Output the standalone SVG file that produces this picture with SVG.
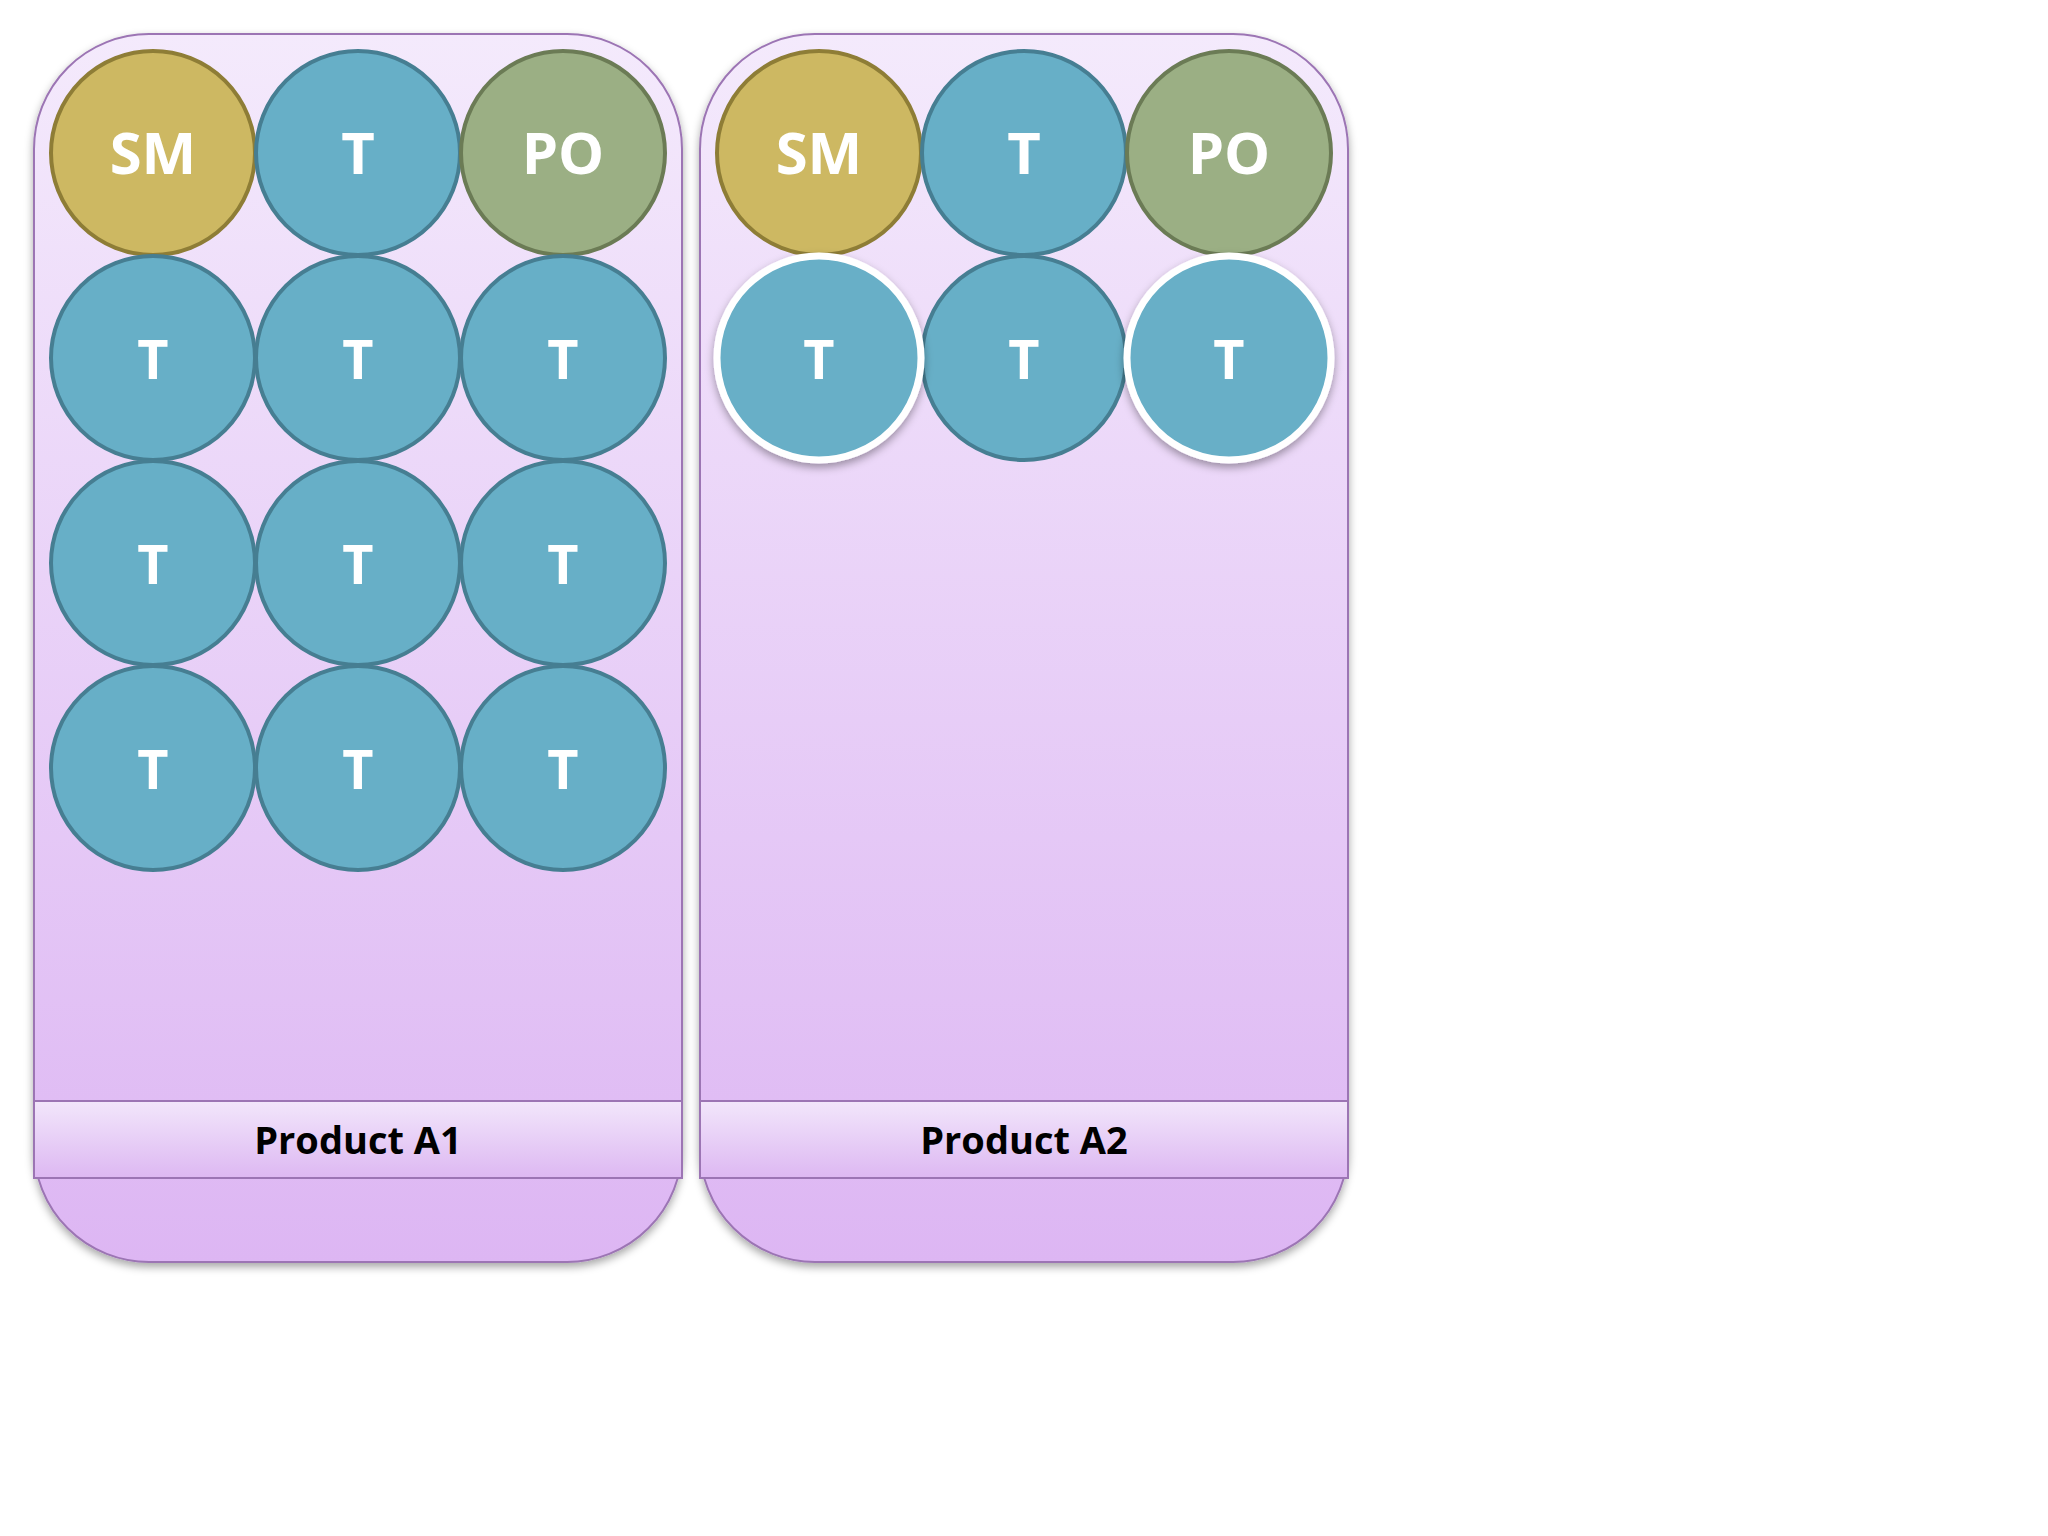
<svg xmlns="http://www.w3.org/2000/svg" width="2048" height="1536" viewBox="0 0 2048 1536">
<defs>
<linearGradient id="pg" x1="0" y1="0" x2="0" y2="1"><stop offset="0" stop-color="#F4EAFC"/><stop offset="1" stop-color="#DDB6F3"/></linearGradient>
<linearGradient id="bg" x1="0" y1="0" x2="0" y2="1"><stop offset="0" stop-color="#F2E6FB"/><stop offset="1" stop-color="#DDB8F2"/></linearGradient>
<filter id="sh" x="-20%" y="-20%" width="140%" height="150%"><feDropShadow dx="0" dy="4" stdDeviation="4" flood-opacity="0.35"/></filter>
</defs>
<style>
.panel{fill:url(#pg);stroke:#9C75B4;stroke-width:2}
.band{fill:url(#bg);stroke:#9C75B4;stroke-width:2}
.t{fill:#67AFC7;stroke:#467E92;stroke-width:4}
.sm{fill:#CDB862;stroke:#8E7D36;stroke-width:4}
.po{fill:#9BAF84;stroke:#6B7B55;stroke-width:4}
.w{fill:#67AFC7;stroke:#FFFFFF;stroke-width:7;filter:url(#sh)}
.l{font-family:"Open Sans","DejaVu Sans",sans-serif;font-weight:bold;fill:#fff;text-anchor:middle}
.big{font-size:58px}
.sml{font-size:54px}
.lab{font-family:"Open Sans","DejaVu Sans",sans-serif;font-weight:bold;font-size:38px;fill:#000;text-anchor:middle}
</style>
<g id="panelA1">
<rect class="panel" x="34" y="34" width="648" height="1228" rx="115" ry="115" filter="url(#sh)"/>
<rect class="band" x="34" y="1101" width="648" height="77"/>
<text class="lab" x="358" y="1154">Product A1</text>
</g>
<g id="panelA2">
<rect class="panel" x="700" y="34" width="648" height="1228" rx="115" ry="115" filter="url(#sh)"/>
<rect class="band" x="700" y="1101" width="648" height="77"/>
<text class="lab" x="1024" y="1154">Product A2</text>
</g>
<g id="a1-sm"><circle class="sm" cx="153" cy="153" r="102"/><text class="l big" x="153" y="174">SM</text></g>
<g id="a1-t0"><circle class="t" cx="358" cy="153" r="102"/><text class="l big" x="358" y="174">T</text></g>
<g id="a1-po"><circle class="po" cx="563" cy="153" r="102"/><text class="l big" x="563" y="174">PO</text></g>
<g id="a1-t1"><circle class="t" cx="153" cy="358" r="102"/><text class="l sml" x="153" y="379">T</text></g>
<g id="a1-t2"><circle class="t" cx="358" cy="358" r="102"/><text class="l sml" x="358" y="379">T</text></g>
<g id="a1-t3"><circle class="t" cx="563" cy="358" r="102"/><text class="l sml" x="563" y="379">T</text></g>
<g id="a1-t4"><circle class="t" cx="153" cy="563" r="102"/><text class="l sml" x="153" y="584">T</text></g>
<g id="a1-t5"><circle class="t" cx="358" cy="563" r="102"/><text class="l sml" x="358" y="584">T</text></g>
<g id="a1-t6"><circle class="t" cx="563" cy="563" r="102"/><text class="l sml" x="563" y="584">T</text></g>
<g id="a1-t7"><circle class="t" cx="153" cy="768" r="102"/><text class="l sml" x="153" y="789">T</text></g>
<g id="a1-t8"><circle class="t" cx="358" cy="768" r="102"/><text class="l sml" x="358" y="789">T</text></g>
<g id="a1-t9"><circle class="t" cx="563" cy="768" r="102"/><text class="l sml" x="563" y="789">T</text></g>
<g id="a2-sm"><circle class="sm" cx="819" cy="153" r="102"/><text class="l big" x="819" y="174">SM</text></g>
<g id="a2-t0"><circle class="t" cx="1024" cy="153" r="102"/><text class="l big" x="1024" y="174">T</text></g>
<g id="a2-po"><circle class="po" cx="1229" cy="153" r="102"/><text class="l big" x="1229" y="174">PO</text></g>
<g id="a2-t2"><circle class="t" cx="1024" cy="358" r="102"/><text class="l sml" x="1024" y="379">T</text></g>
<g id="a2-t1"><circle class="w" cx="819" cy="358" r="102"/><text class="l sml" x="819" y="379">T</text></g>
<g id="a2-t3"><circle class="w" cx="1229" cy="358" r="102"/><text class="l sml" x="1229" y="379">T</text></g>
<g id="connectors"/>
</svg>
